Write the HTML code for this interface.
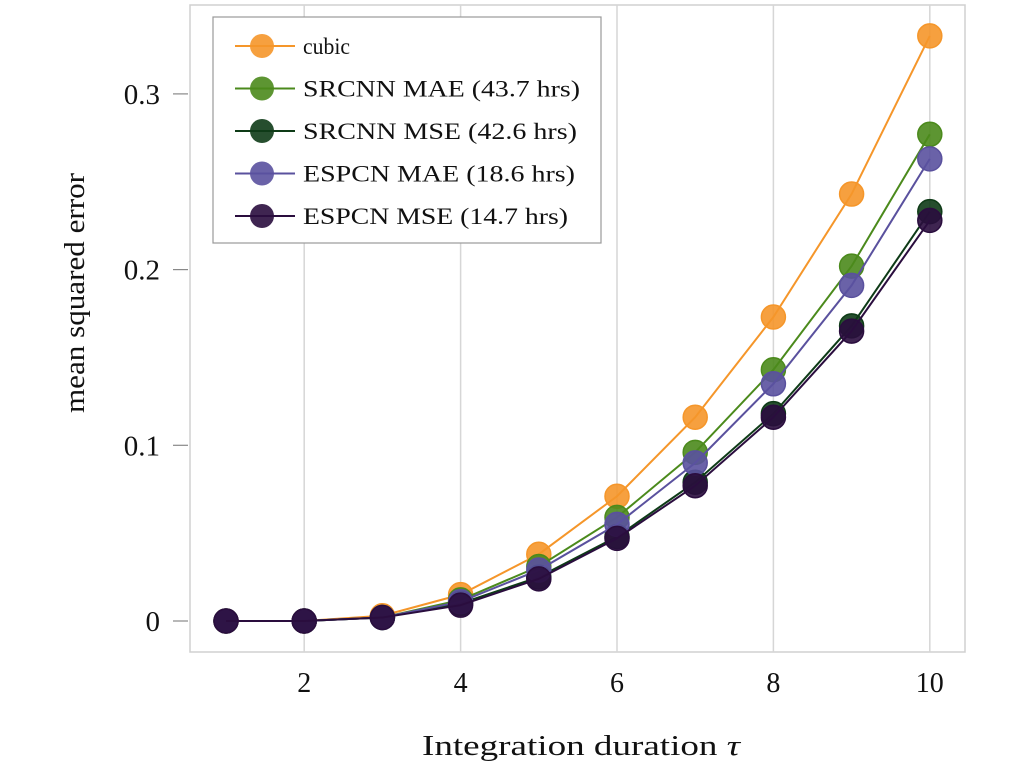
<!DOCTYPE html>
<html><head><meta charset="utf-8"><style>
body{margin:0;background:#fff}
svg text{font-family:"Liberation Serif",serif;fill:#111}
</style></head><body>
<svg id="chart" width="1024" height="768" xmlns="http://www.w3.org/2000/svg">
<rect x="190" y="5" width="775" height="647" fill="none" stroke="#d0d0d0" stroke-width="1.5"/>
<g id="grid"></g><g id="axes"></g><g id="series"></g>
<text transform="translate(84,293) rotate(-90)" text-anchor="middle" font-size="29" textLength="240" lengthAdjust="spacingAndGlyphs">mean squared error</text>
<text x="581" y="755" text-anchor="middle" font-size="29" textLength="318" lengthAdjust="spacingAndGlyphs">Integration duration <tspan font-style="italic">τ</tspan></text>
<g id="legend">
<rect x="213" y="17" width="388" height="226" fill="#fff" stroke="#999" stroke-width="1.2"/>
</g>
</svg>
<script>
const xs=[1,2,3,4,5,6,7,8,9,10];
const xTicks=[2,4,6,8,10];
const yTicks=[0,0.1,0.2,0.3];
const yTickLabels=["0","0.1","0.2","0.3"];
const seriesNames=["cubic","SRCNN MAE (43.7 hrs)","SRCNN MSE (42.6 hrs)","ESPCN MAE (18.6 hrs)","ESPCN MSE (14.7 hrs)"];
const legendWidths=[47,277,274,272,265];
const cubic=[0,0,0.003,0.015,0.038,0.071,0.116,0.173,0.243,0.333];
const srcnnMae=[0,0,0.002,0.012,0.031,0.059,0.096,0.143,0.202,0.277];
const srcnnMse=[0,0,0.002,0.010,0.025,0.048,0.079,0.118,0.168,0.233];
const espcnMae=[0,0,0.002,0.011,0.029,0.055,0.090,0.135,0.191,0.263];
const espcnMse=[0,0,0.002,0.009,0.024,0.047,0.077,0.116,0.165,0.228];
const colors=["#f5962a","#4b8a1c","#0e3b17","#5a519e","#2a0d3e"];
const ns="http://www.w3.org/2000/svg";
const X=v=>226+(v-1)*78.2, Y=v=>621-v*1757;
function mk(t,a,p){const e=document.createElementNS(ns,t);for(const k in a)e.setAttribute(k,a[k]);p.appendChild(e);return e;}
const grid=document.getElementById('grid'),axes=document.getElementById('axes');
xTicks.forEach(t=>{
 const l=mk('line',{x1:X(t),x2:X(t),y1:5,y2:652,stroke:'#d6d6d6','stroke-width':1.5},grid);
 
 
 const tx=mk('text',{x:X(t),y:692,'text-anchor':'middle','font-size':28},axes);tx.textContent=t;
 
 
});
yTicks.forEach((t,i)=>{
 const l=mk('line',{x1:173,x2:188,y1:Y(t),y2:Y(t),stroke:'#888','stroke-width':1.2},axes);
 
 
 const tx=mk('text',{x:160,y:Y(t)+10,'text-anchor':'end','font-size':29},axes);tx.textContent=yTickLabels[i];
 
 
});
const data=[cubic,srcnnMae,srcnnMse,espcnMae,espcnMse];
const sg=document.getElementById('series'),lg=document.getElementById('legend');
data.forEach((d,si)=>{
 const g=mk('g',{},sg);
 
 
 mk('polyline',{points:xs.map((x,i)=>X(x)+','+Y(d[i])).join(' '),fill:'none',stroke:colors[si],'stroke-width':2},g);
 xs.forEach((x,i)=>{
  const c=mk('circle',{cx:X(x),cy:Y(d[i]),r:12,fill:colors[si],'fill-opacity':0.9,stroke:colors[si],'stroke-width':1.5},g);
  
  
 });
 const ly=46+si*42.5;
 const e=mk('g',{},lg);
 
 
 mk('line',{x1:235,x2:295,y1:ly,y2:ly,stroke:colors[si],'stroke-width':2},e);
 mk('circle',{cx:262,cy:ly,r:12,fill:colors[si],'fill-opacity':0.9},e);
 const t=mk('text',{x:303,y:ly+8,'font-size':23,textLength:legendWidths[si],lengthAdjust:'spacingAndGlyphs'},e);t.textContent=seriesNames[si];
});
</script>
</body></html>
